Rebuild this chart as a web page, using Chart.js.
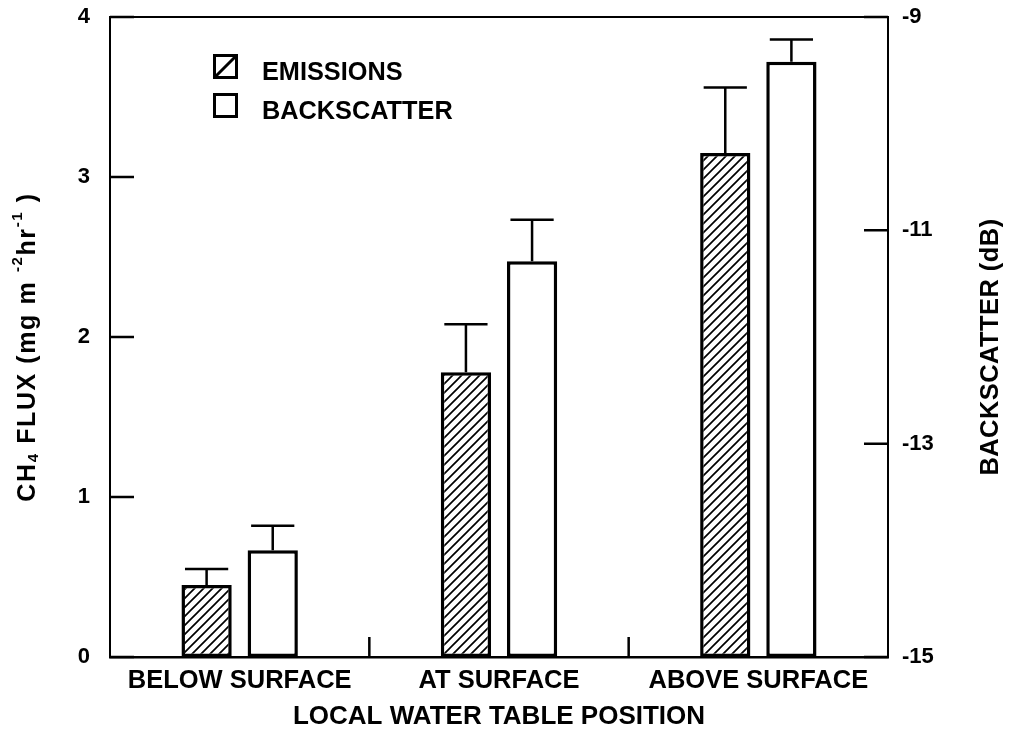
<!DOCTYPE html>
<html>
<head>
<meta charset="utf-8">
<script src="https://cdn.jsdelivr.net/npm/chart.js@4.4.1/dist/chart.umd.min.js"></script>
<style>
  html, body { margin: 0; padding: 0; background: #fff; }
  #c { display: block; }
</style>
</head>
<body>
<canvas id="c" width="1012" height="736"></canvas>
<script>
// Categories and measured values
const categories = ['BELOW SURFACE', 'AT SURFACE', 'ABOVE SURFACE'];
const emissions = [0.45, 1.78, 3.15];          // CH4 flux, mg m-2 hr-1
const emissionsErr = [0.10, 0.30, 0.41];
const backscatter = [-14.00, -11.29, -9.42];   // dB
const backscatterErr = [0.23, 0.39, 0.21];
const fluxTicks = [0, 1, 2, 3, 4];
const dbTicks = [-15, -13, -11, -9];

const FAMILY = "'Liberation Sans', Arial, Helvetica, sans-serif";
const bold = size => ({ family: FAMILY, size: size, weight: 'bold' });

// Diagonal hatch used for the emissions bars
function makeHatch() {
  const s = 9;
  const t = document.createElement('canvas');
  t.width = s; t.height = s;
  const g = t.getContext('2d');
  g.fillStyle = '#fff';
  g.fillRect(0, 0, s, s);
  g.strokeStyle = '#000';
  g.lineWidth = 1.7;
  g.beginPath();
  g.moveTo(0, s); g.lineTo(s, 0);
  g.moveTo(-2, 2); g.lineTo(2, -2);
  g.moveTo(s - 2, s + 2); g.lineTo(s + 2, s - 2);
  g.stroke();
  return g.createPattern(t, 'repeat');
}

const canvas = document.getElementById('c');
const ctx = canvas.getContext('2d');
const hatch = makeHatch();

// Keep the plot frame exactly where the layout puts it
const noScalePadding = s => { s.paddingTop = 0; s.paddingBottom = 0; s.paddingLeft = 0; s.paddingRight = 0; };

// Frame, inward tick marks, error bars, axis titles and legend
const decorations = {
  id: 'decorations',
  afterDatasetsDraw(chart) {
    const c = chart.ctx;
    const area = chart.chartArea;
    c.save();
    c.strokeStyle = '#000';
    c.lineCap = 'butt';

    // error bars (upper whisker with cap)
    chart.data.datasets.forEach((ds, i) => {
      const meta = chart.getDatasetMeta(i);
      const scale = chart.scales[meta.yAxisID];
      meta.data.forEach((bar, j) => {
        const yTop = scale.getPixelForValue(ds.data[j] + ds.errors[j]);
        const half = bar.width * 0.43;
        c.lineWidth = 2.5;
        c.beginPath();
        c.moveTo(bar.x, bar.y);
        c.lineTo(bar.x, yTop);
        c.moveTo(bar.x - half, yTop);
        c.lineTo(bar.x + half, yTop);
        c.stroke();
      });
    });

    // top edge of the frame
    c.lineWidth = 2;
    c.beginPath();
    c.moveTo(area.left, area.top);
    c.lineTo(area.right, area.top);
    c.stroke();

    // inward ticks on both value axes
    c.lineWidth = 2.5;
    const yL = chart.scales.y, yR = chart.scales.y2, x = chart.scales.x;
    c.beginPath();
    yL.ticks.forEach(t => {
      const p = yL.getPixelForValue(t.value);
      c.moveTo(area.left, p); c.lineTo(area.left + 24, p);
    });
    yR.ticks.forEach(t => {
      const p = yR.getPixelForValue(t.value);
      c.moveTo(area.right, p); c.lineTo(area.right - 24, p);
    });
    // short ticks between categories
    for (let k = 1; k < categories.length; k++) {
      const p = (x.getPixelForValue(k - 1) + x.getPixelForValue(k)) / 2;
      c.moveTo(p, area.bottom); c.lineTo(p, area.bottom - 20);
    }
    c.stroke();

    // legend
    const lx = 213, ly = [54, 93], box = 25;
    chart.data.datasets.forEach((ds, i) => {
      const top = ly[i];
      c.fillStyle = '#fff';
      c.fillRect(lx, top, box, box);
      if (ds.backgroundColor === hatch) {
        c.lineWidth = 3;
        c.beginPath();
        c.moveTo(lx + 2, top + box - 2);
        c.lineTo(lx + box - 2, top + 2);
        c.stroke();
      }
      c.lineWidth = 3;
      c.strokeRect(lx + 1.5, top + 1.5, box - 3, box - 3);
      c.fillStyle = '#000';
      c.font = `bold 25.3px ${FAMILY}`;
      c.textAlign = 'left';
      c.textBaseline = 'alphabetic';
      c.fillText(ds.label, 262, top + 26);
    });

    // left axis title with subscript and superscripts
    const parts = [
      ['CH', 0, 25], ['4', 6, 15], [' FLUX (mg m ', 0, 25],
      ['-2', -10, 15], ['hr', 0, 25], ['-1', -10, 15], [' )', 0, 25]
    ];
    c.save();
    c.translate(28, 347);
    c.rotate(-Math.PI / 2);
    c.textBaseline = 'middle';
    c.textAlign = 'left';
    c.fillStyle = '#000';
    if ('letterSpacing' in c) c.letterSpacing = '1.6px';
    let total = 0;
    parts.forEach(p => { c.font = `bold ${p[2]}px ${FAMILY}`; total += c.measureText(p[0]).width; });
    let px = -total / 2;
    parts.forEach(p => {
      c.font = `bold ${p[2]}px ${FAMILY}`;
      c.fillText(p[0], px, p[1]);
      px += c.measureText(p[0]).width;
    });
    c.restore();

    // right axis title
    c.save();
    c.translate(991, 347);
    c.rotate(-Math.PI / 2);
    c.textBaseline = 'middle';
    c.textAlign = 'center';
    if ('letterSpacing' in c) c.letterSpacing = '0.5px';
    c.font = `bold 25.4px ${FAMILY}`;
    c.fillStyle = '#000';
    c.fillText('BACKSCATTER (dB)', 0, 0);
    c.restore();

    c.restore();
  }
};

new Chart(ctx, {
  type: 'bar',
  data: {
    labels: categories,
    datasets: [
      {
        label: 'EMISSIONS',
        data: emissions,
        errors: emissionsErr,
        yAxisID: 'y',
        backgroundColor: hatch,
        borderColor: '#000',
        borderWidth: 3.5,
        borderSkipped: false,
        categoryPercentage: 0.51,
        barPercentage: 0.76
      },
      {
        label: 'BACKSCATTER',
        data: backscatter,
        errors: backscatterErr,
        yAxisID: 'y2',
        base: dbTicks[0],
        backgroundColor: '#fff',
        borderColor: '#000',
        borderWidth: 3.5,
        borderSkipped: false,
        categoryPercentage: 0.51,
        barPercentage: 0.76
      }
    ]
  },
  options: {
    responsive: false,
    animation: false,
    devicePixelRatio: 1,
    layout: { padding: { top: 17, left: 0, right: 0, bottom: 0 } },
    plugins: {
      legend: { display: false },
      tooltip: { enabled: false }
    },
    scales: {
      x: {
        type: 'category',
        offset: true,
        grid: { display: false, drawTicks: false },
        border: { display: true, color: '#000', width: 2.5 },
        ticks: { color: '#000', font: bold(25.5), padding: 9, maxRotation: 0, autoSkip: false },
        title: {
          display: true, text: 'LOCAL WATER TABLE POSITION', color: '#000',
          font: bold(26), padding: { top: 0, bottom: 4 }
        },
        afterFit: s => { s.height = 79; noScalePadding(s); }
      },
      y: {
        position: 'left',
        min: fluxTicks[0],
        max: fluxTicks[fluxTicks.length - 1],
        grid: { display: false, drawTicks: false },
        border: { display: true, color: '#000', width: 2 },
        ticks: { color: '#000', font: bold(22), padding: 20 },
        afterBuildTicks: s => { s.ticks = fluxTicks.map(v => ({ value: v })); },
        afterFit: s => { s.width = 110; noScalePadding(s); }
      },
      y2: {
        position: 'right',
        min: dbTicks[0],
        max: dbTicks[dbTicks.length - 1],
        grid: { display: false, drawTicks: false },
        border: { display: true, color: '#000', width: 2 },
        ticks: { color: '#000', font: bold(22), padding: 14 },
        afterBuildTicks: s => { s.ticks = dbTicks.map(v => ({ value: v })); },
        afterFit: s => { s.width = 124; noScalePadding(s); }
      }
    }
  },
  plugins: [decorations]
});
</script>
</body>
</html>
